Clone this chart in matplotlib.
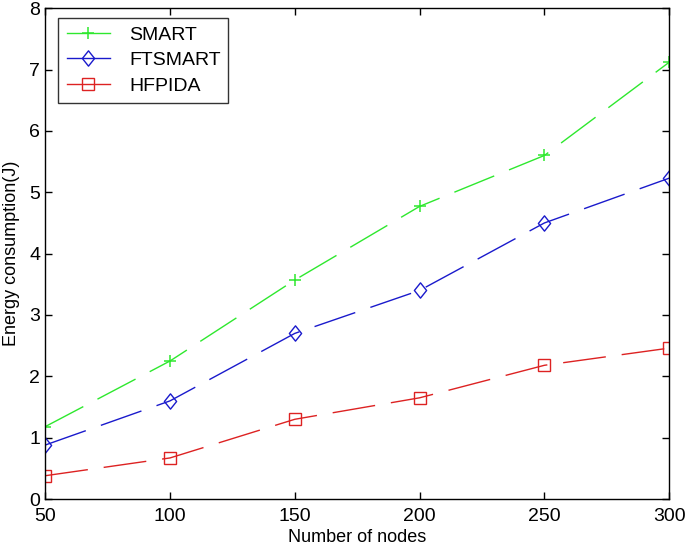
import matplotlib
matplotlib.use("Agg")
import matplotlib.pyplot as plt
from matplotlib.path import Path

plt.rcParams['font.family'] = ['Liberation Sans', 'DejaVu Sans']

nodes = [50, 100, 150, 200, 250, 300]
smart = [1.18, 2.25, 3.57, 4.77, 5.60, 7.12]
ftsmart = [0.88, 1.60, 2.70, 3.40, 4.50, 5.23]
hfpida = [0.38, 0.67, 1.30, 1.65, 2.18, 2.46]

fig = plt.figure(figsize=(6.85, 5.46), dpi=100)
ax = fig.add_axes([0.066, 0.086, 0.911, 0.899])

# matlab-like diamond, a bit taller than wide
diamond = Path([(0, 1), (0.8, 0), (0, -1), (-0.8, 0), (0, 1)],
               [Path.MOVETO, Path.LINETO, Path.LINETO, Path.LINETO, Path.CLOSEPOLY])

dash = (0, (31, 11.5))
ax.plot(nodes, smart, color='#2ee82e', linestyle=dash, marker='+', markersize=8.5,
        markeredgewidth=1.1, linewidth=1.0, label='SMART')
ax.plot(nodes, ftsmart, color='#1a1acc', linestyle=dash, marker=diamond, markersize=11,
        markerfacecolor='none', markeredgewidth=1.0, linewidth=1.0, label='FTSMART')
ax.plot(nodes, hfpida, color='#dd2222', linestyle=dash, marker='s', markersize=8.5,
        markerfacecolor='none', markeredgewidth=1.0, linewidth=1.0, label='HFPIDA')

ax.set_xlim(50, 300)
ax.set_ylim(0, 8)
ax.set_xticks([50, 100, 150, 200, 250, 300])
ax.set_yticks(range(0, 9))
ax.tick_params(direction='in', top=True, right=True, labelsize=14, length=5, width=1)
ax.tick_params(axis='x', pad=6.5)
for s in ax.spines.values():
    s.set_linewidth(1.0)
ax.set_xlabel('Number of nodes', fontsize=13, labelpad=3)
ax.set_ylabel('Energy consumption(J)', fontsize=13, labelpad=7)

leg = ax.legend(loc='upper left', bbox_to_anchor=(0.021, 0.0, 0.272, 0.981), mode='expand',
                fontsize=14, fancybox=False, edgecolor='black', borderaxespad=0,
                handlelength=2.2, labelspacing=0.4, handletextpad=1.0, borderpad=0.45)
leg.get_frame().set_linewidth(1.0)
for h in leg.get_lines():
    h.set_linestyle('-')

fig.savefig('out.png', dpi=100)
